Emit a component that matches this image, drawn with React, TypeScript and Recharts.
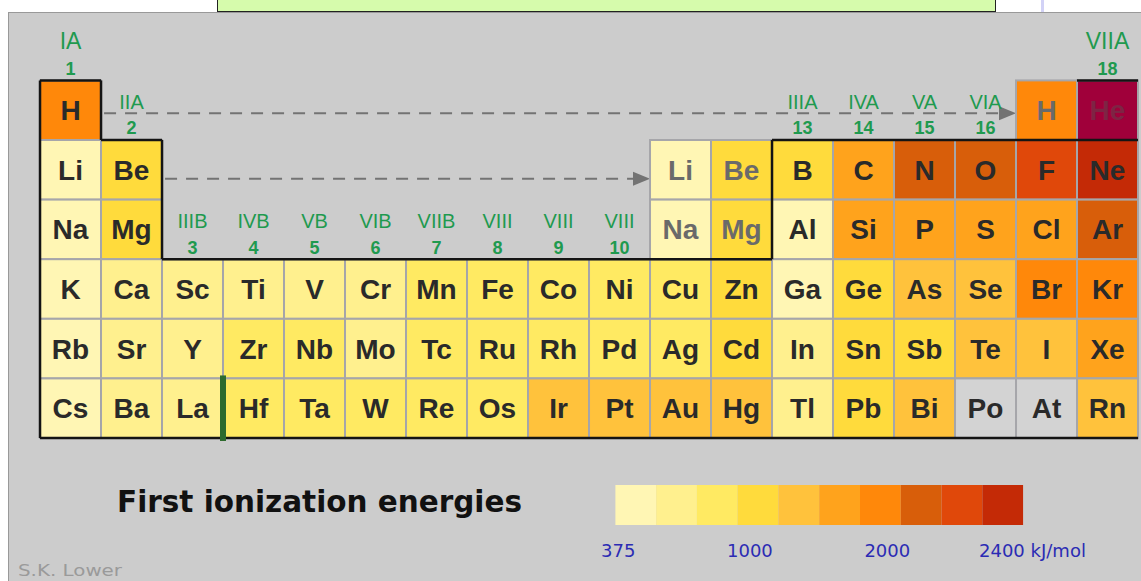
import React from "react";
import { ScatterChart, Scatter, XAxis, YAxis, ReferenceLine, BarChart, Bar } from "recharts";

const W = 1141;
const H = 581;

// 10-step colour scale, first ionization energy (low -> high)
const scaleColors = ["#FFF6B4", "#FFF08E", "#FFEA62", "#FFDB3C", "#FFC23C", "#FFA31C", "#FF880A", "#D85E0A", "#E0480A", "#C42A06"];
const noDataColor = "#D3D3D3";
const offScaleColor = "#A0003A";

const legendTickPos = [0.07, 3.3, 6.67, 10.23];
const legendTickLabels = ["375", "1000", "2000", "2400 kJ/mol"];

// periods 4-6 fill all 18 groups
const period4 = ["K", "Ca", "Sc", "Ti", "V", "Cr", "Mn", "Fe", "Co", "Ni", "Cu", "Zn", "Ga", "Ge", "As", "Se", "Br", "Kr"];
const period4Lvl = [1, 2, 2, 2, 2, 2, 3, 3, 3, 3, 3, 4, 1, 4, 5, 5, 7, 7];
const period5 = ["Rb", "Sr", "Y", "Zr", "Nb", "Mo", "Tc", "Ru", "Rh", "Pd", "Ag", "Cd", "In", "Sn", "Sb", "Te", "I", "Xe"];
const period5Lvl = [1, 2, 2, 3, 3, 2, 3, 3, 3, 3, 3, 4, 2, 4, 4, 5, 5, 6];
const period6 = ["Cs", "Ba", "La", "Hf", "Ta", "W", "Re", "Os", "Ir", "Pt", "Au", "Hg", "Tl", "Pb", "Bi", "Po", "At", "Rn"];
const period6Lvl = [1, 2, 2, 3, 3, 3, 3, 3, 5, 5, 5, 5, 2, 4, 5, 0, 0, 5];

// periods 2-3: groups 1, 2, 13-18
const shortCols = [1, 2, 13, 14, 15, 16, 17, 18];
const period2 = ["Li", "Be", "B", "C", "N", "O", "F", "Ne"];
const period2Lvl = [1, 4, 4, 6, 8, 8, 9, 10];
const period3 = ["Na", "Mg", "Al", "Si", "P", "S", "Cl", "Ar"];
const period3Lvl = [1, 4, 1, 6, 6, 6, 6, 8];

const period1 = ["H", "He"];
const period1Cols = [1, 18];
const period1Lvl = [7, 11];

// repeated cells with grey text
const ghostSyms = ["H", "Li", "Be", "Na", "Mg"];
const ghostCols = [17, 11, 12, 11, 12];
const ghostRows = [1, 2, 2, 3, 3];
const ghostLvl = [7, 1, 4, 1, 4];

const groupCols = [1, 2, 3, 4, 5, 6, 7, 8, 9, 10, 13, 14, 15, 16, 18];
const groupRoman = ["IA", "IIA", "IIIB", "IVB", "VB", "VIB", "VIIB", "VIII", "VIII", "VIII", "IIIA", "IVA", "VA", "VIA", "VIIA"];
const groupNum = ["1", "2", "3", "4", "5", "6", "7", "8", "9", "10", "13", "14", "15", "16", "18"];
const groupRow = [1, 2, 4, 4, 4, 4, 4, 4, 4, 4, 2, 2, 2, 2, 1];

const X_DOMAIN: [number, number] = [-0.156, 18.549];
const Y_DOMAIN: [number, number] = [-0.849, 8.899];
const CW = W / (X_DOMAIN[1] - X_DOMAIN[0]);
const CH = H / (Y_DOMAIN[1] - Y_DOMAIN[0]);

const cells: any[] = [];
period1.forEach((s, i) => cells.push({ sym: s, col: period1Cols[i], row: 1, lvl: period1Lvl[i] }));
period2.forEach((s, i) => cells.push({ sym: s, col: shortCols[i], row: 2, lvl: period2Lvl[i] }));
period3.forEach((s, i) => cells.push({ sym: s, col: shortCols[i], row: 3, lvl: period3Lvl[i] }));
period4.forEach((s, i) => cells.push({ sym: s, col: i + 1, row: 4, lvl: period4Lvl[i] }));
period5.forEach((s, i) => cells.push({ sym: s, col: i + 1, row: 5, lvl: period5Lvl[i] }));
period6.forEach((s, i) => cells.push({ sym: s, col: i + 1, row: 6, lvl: period6Lvl[i] }));
ghostSyms.forEach((s, i) => cells.push({ sym: s, col: ghostCols[i], row: ghostRows[i], lvl: ghostLvl[i], ghost: true }));

const groups = groupCols.map((c, i) => ({ col: c, row: groupRow[i], roman: groupRoman[i], num: groupNum[i] }));

const legendRow: any = { name: "scale" };
scaleColors.forEach((_, i) => (legendRow[`s${i}`] = 1));

// heavy outline, in cell-edge coordinates
const outline = [
  [0.5, 0.5, 0.5, 6.5],
  [0.5, 0.5, 1.5, 0.5],
  [1.5, 0.5, 1.5, 1.5],
  [1.5, 1.5, 2.5, 1.5],
  [2.5, 1.5, 2.5, 3.5],
  [2.5, 3.5, 12.5, 3.5],
  [12.5, 1.5, 12.5, 3.5],
  [12.5, 1.5, 18.5, 1.5],
  [17.5, 0.5, 18.5, 0.5],
  [0.5, 6.5, 18.5, 6.5],
];

const colorOf = (lvl: number) => (lvl === 0 ? noDataColor : lvl === 11 ? offScaleColor : scaleColors[lvl - 1]);

const CellShape = (props: any) => {
  const { cx, cy, payload } = props;
  const textFill = payload.lvl === 11 ? "#7E2444" : payload.ghost ? "#6a6a6a" : "#2a2a2a";
  return (
    <g>
      <rect x={cx - CW / 2} y={cy - CH / 2} width={CW} height={CH} fill={colorOf(payload.lvl)} stroke="#A6A6AA" strokeWidth={2} />
      <text x={cx} y={cy} dy="0.36em" textAnchor="middle" fontFamily="'Liberation Sans', Arial, sans-serif" fontWeight="bold" fontSize={28} fill={textFill}>
        {payload.sym}
      </text>
    </g>
  );
};

const GroupShape = (props: any) => {
  const { cx, cy, payload } = props;
  const top = cy - CH / 2;
  const big = payload.col === 1 || payload.col === 18;
  return (
    <g fill="#1F9A4F" fontFamily="'Liberation Sans', Arial, sans-serif" textAnchor="middle">
      <text x={cx} y={top - (big ? 40 : 38)} dy="0.36em" fontSize={big ? 23 : 20}>{payload.roman}</text>
      <text x={cx} y={top - 12} dy="0.36em" fontSize={18} fontWeight="bold">{payload.num}</text>
    </g>
  );
};

const DashArrow = (p: any) => {
  const { x1, y1, x2, y2 } = p;
  return (
    <g>
      <line x1={x1} y1={y1} x2={x2 - 14} y2={y2} stroke="#737373" strokeWidth={2} strokeDasharray="12 9" />
      <polygon points={`${x2},${y2} ${x2 - 17},${y2 - 7} ${x2 - 17},${y2 + 7}`} fill="#737373" />
    </g>
  );
};

export default function App() {
  return (
    <div style={{ position: "relative", width: W, height: H, background: "#fff", overflow: "hidden" }}>
      <style>{"body{margin:0}"}</style>
      <div style={{ position: "absolute", left: 8, top: 12, width: W - 8, height: H - 12, background: "#CCCCCC", borderLeft: "1px solid #999", borderTop: "1px solid #999" }} />
      <div style={{ position: "absolute", left: 217, top: -1, width: 777, height: 11, background: "#D6FBAC", border: "1px solid #222" }} />
      <div style={{ position: "absolute", left: 1041, top: 0, width: 3, height: 12, background: "#D2D2F6" }} />

      {/* cells and group headers */}
      <div style={{ position: "absolute", left: 0, top: 0 }}>
        <ScatterChart width={W} height={H} margin={{ top: 0, right: 0, bottom: 0, left: 0 }}>
          <XAxis type="number" dataKey="col" domain={X_DOMAIN} hide allowDataOverflow />
          <YAxis type="number" dataKey="row" domain={Y_DOMAIN} reversed hide allowDataOverflow />
          <Scatter data={cells} shape={CellShape} isAnimationActive={false} />
          <Scatter data={groups} shape={GroupShape} isAnimationActive={false} />
          <ReferenceLine segment={[{ x: 1.55, y: 1.05 }, { x: 16.5, y: 1.05 }]} shape={DashArrow} ifOverflow="visible" />
          <ReferenceLine segment={[{ x: 2.55, y: 2.15 }, { x: 10.5, y: 2.15 }]} shape={DashArrow} ifOverflow="visible" />
        </ScatterChart>
      </div>

      {/* outline drawn on top of the cells */}
      <div style={{ position: "absolute", left: 0, top: 0, pointerEvents: "none" }}>
        <ScatterChart width={W} height={H} margin={{ top: 0, right: 0, bottom: 0, left: 0 }}>
          <XAxis type="number" dataKey="col" domain={X_DOMAIN} hide allowDataOverflow />
          <YAxis type="number" dataKey="row" domain={Y_DOMAIN} reversed hide allowDataOverflow />
          <Scatter data={[]} isAnimationActive={false} />
          {outline.map((s, i) => (
            <ReferenceLine key={i} segment={[{ x: s[0], y: s[1] }, { x: s[2], y: s[3] }]} stroke="#141414" strokeWidth={2.5} ifOverflow="visible" />
          ))}
          <ReferenceLine segment={[{ x: 3.5, y: 5.45 }, { x: 3.5, y: 6.55 }]} stroke="#2E6B2E" strokeWidth={6} ifOverflow="visible" />
        </ScatterChart>
      </div>

      <div style={{ position: "absolute", left: 595, top: 485 }}>
        <BarChart width={530} height={80} data={[legendRow]} layout="vertical" margin={{ top: 0, right: 0, bottom: 0, left: 0 }} barCategoryGap={0}>
          <XAxis
            type="number"
            domain={[-0.5, 12.5]}
            ticks={legendTickPos}
            tickFormatter={(v: number) => legendTickLabels[legendTickPos.indexOf(v)]}
            axisLine={false}
            tickLine={false}
            tickMargin={13}
            height={40}
            interval={0}
            allowDataOverflow
            tick={{ fill: "#2B2BB4", fontSize: 18, fontFamily: "'DejaVu Sans', sans-serif" }}
          />
          <YAxis type="category" dataKey="name" hide />
          {scaleColors.map((c, i) => (
            <Bar key={i} dataKey={`s${i}`} stackId="a" fill={c} isAnimationActive={false} />
          ))}
        </BarChart>
      </div>

      <svg width={W} height={H} style={{ position: "absolute", left: 0, top: 0, pointerEvents: "none" }}>
        <text x={117} y={512} fontFamily="'DejaVu Sans', sans-serif" fontWeight="bold" fontSize={30} textLength={405} lengthAdjust="spacingAndGlyphs" fill="#111">
          First ionization energies
        </text>
        <text x={18} y={576} fontFamily="'DejaVu Sans', sans-serif" fontSize={15} textLength={104} lengthAdjust="spacingAndGlyphs" fill="#9A9A9A">
          S.K. Lower
        </text>
      </svg>
    </div>
  );
}
